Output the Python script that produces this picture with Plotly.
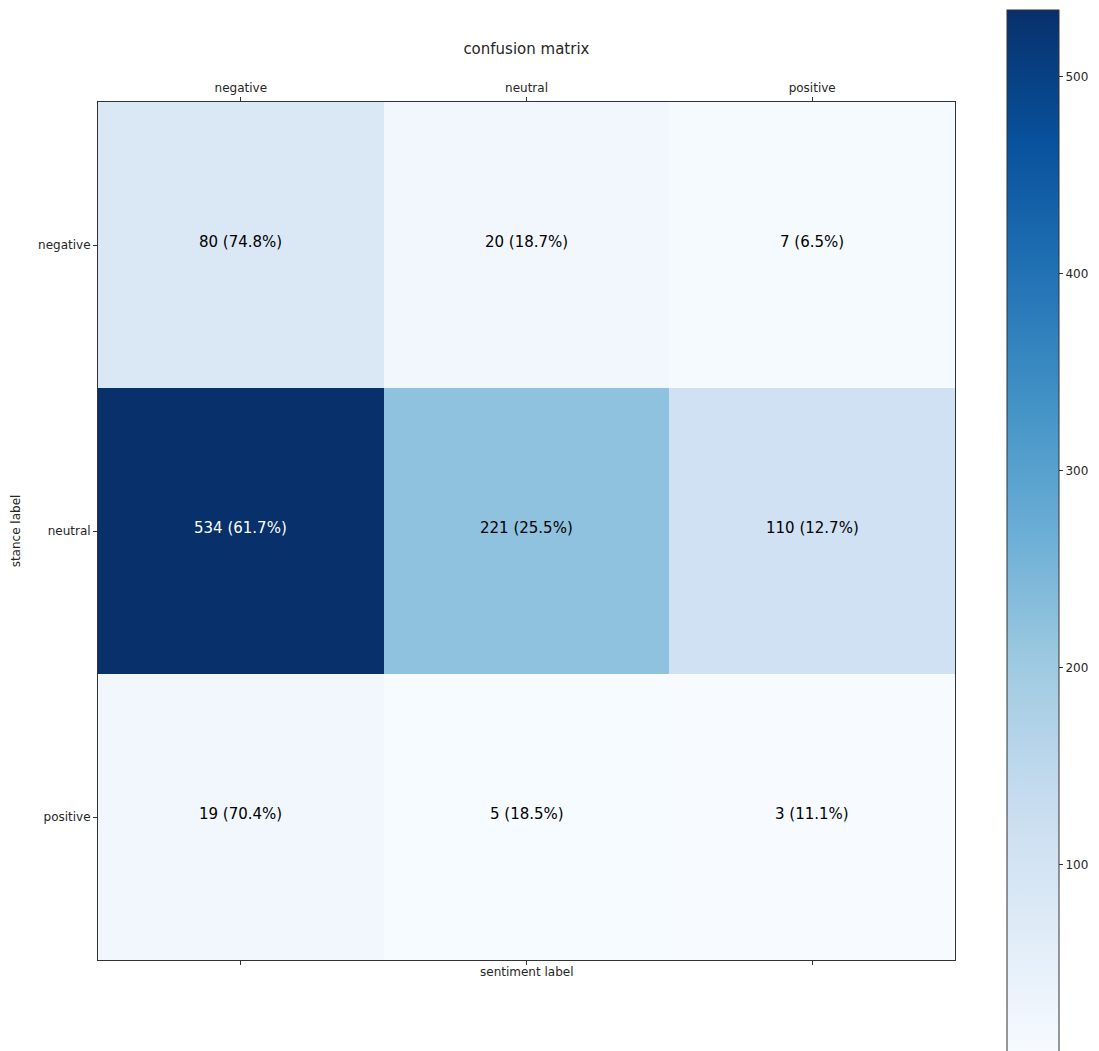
import plotly.graph_objects as go

# Confusion matrix: rows = stance label, columns = sentiment label
labels = ["negative", "neutral", "positive"]
counts = [
    [80, 20, 7],
    [534, 221, 110],
    [19, 5, 3],
]

# matplotlib "Blues"
blues = [
    [0.000, "#f7fbff"], [0.125, "#deebf7"], [0.250, "#c6dbef"],
    [0.375, "#9ecae1"], [0.500, "#6baed6"], [0.625, "#4292c6"],
    [0.750, "#2171b5"], [0.875, "#08519c"], [1.000, "#08306b"],
]

zmin = min(min(r) for r in counts)
zmax = max(max(r) for r in counts)
font = "DejaVu Sans, sans-serif"

fig = go.Figure(go.Heatmap(
    z=counts, x=labels, y=labels,
    colorscale=blues, zmin=zmin, zmax=zmax,
    xgap=0, ygap=0, hoverinfo="skip",
    colorbar=dict(
        x=1.0607, xanchor="left", xpad=0,
        y=-0.1119, yanchor="bottom", len=1.2191, lenmode="fraction",
        ypad=0, thickness=52, outlinecolor="#333333", outlinewidth=1,
        tickvals=[100, 200, 300, 400, 500], ticks="outside", ticklen=4,
        tickcolor="#333333", tickfont=dict(family=font, size=12, color="#262626"),
    ),
))

thresh = (zmin + zmax) / 2
for i, row in enumerate(counts):
    total = sum(row)
    for j, v in enumerate(row):
        fig.add_annotation(
            x=labels[j], y=labels[i], text=f"{v} ({v / total * 100:.1f}%)",
            showarrow=False, yshift=3,
            font=dict(family=font, size=15, color="white" if v > thresh else "black"),
        )

fig.add_annotation(
    x=0.5, y=-0.004, xref="paper", yref="paper", yanchor="top",
    text="sentiment label", showarrow=False,
    font=dict(family=font, size=12, color="#262626"),
)

fig.update_layout(
    width=1099, height=1051,
    margin=dict(l=98, r=144, t=102, b=91, autoexpand=False),
    paper_bgcolor="white", plot_bgcolor="white",
    font=dict(family=font, color="#262626"),
    title=dict(text="confusion matrix", x=0.479, xanchor="center",
               y=0.954, yanchor="middle", font=dict(family=font, size=15, color="#262626")),
    xaxis=dict(side="top", showline=True, linecolor="#333333", linewidth=1, mirror="ticks",
               ticks="outside", ticklen=4, tickcolor="#333333",
               tickfont=dict(family=font, size=12, color="#262626"), showgrid=False),
    yaxis=dict(autorange="reversed", showline=True, linecolor="#333333", linewidth=1, mirror=True,
               ticks="outside", ticklen=4, tickcolor="#333333",
               tickfont=dict(family=font, size=12, color="#262626"), showgrid=False,
               title=dict(text="stance label", font=dict(family=font, size=12, color="#262626"),
                          standoff=14)),
)

fig.write_html("out.html")
